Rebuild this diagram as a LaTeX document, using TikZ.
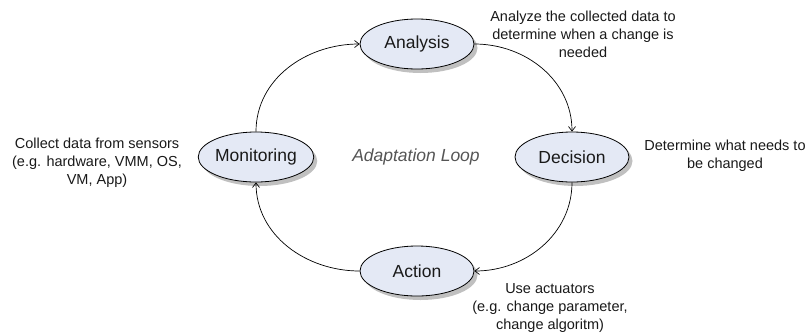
\documentclass[tikz,border=0pt]{standalone}
\usepackage{fontspec}
\setmainfont{Liberation Sans}
\usetikzlibrary{shapes.geometric,arrows.meta,shadows}
\definecolor{stagefill}{HTML}{E4E9F5}
\definecolor{loopgray}{HTML}{555555}
\tikzset{
  stage/.style={ellipse, draw=black, line width=0.8pt, fill=stagefill,
    minimum width=114pt, minimum height=50pt, inner sep=0pt,
    font=\fontsize{17.5}{21}\selectfont, text=black!90,
    drop shadow={shadow xshift=3.5pt, shadow yshift=-4pt, fill=black!45, opacity=0.55}},
  note/.style={align=center, inner sep=0pt, font=\fontsize{14.5}{18}\selectfont, text=black!90},
  flow/.style={line width=0.7pt, -{Straight Barb[length=4.5pt,width=7pt]}}
}
\begin{document}
\begin{tikzpicture}[x=1pt,y=-1pt]
  \useasboundingbox (0,0) rectangle (809,333);

  % the four stages of the loop
  \node[stage] (ana) at (417,44)  {Analysis};
  \node[stage] (mon) at (256,157) {Monitoring};
  \node[stage] (dec) at (572,157) {Decision};
  \node[stage] (act) at (417,271) {Action};

  \node[font=\fontsize{17.5}{21}\selectfont\itshape, text=loopgray] (title) at (416,157) {Adaptation Loop};

  % cyclic connectors
  \draw[flow] (mon.north) to[out=90,in=180] (ana.west);
  \draw[flow] (ana.east)  to[out=0,in=90]   (dec.north);
  \draw[flow] (dec.south) to[out=-90,in=0]  (act.east);
  \draw[flow] (act.west)  to[out=180,in=-90] (mon.south);

  % descriptions
  \node[note] (anaNote) at (583,34)  {Analyze the collected data to\\determine when a change is\\needed};
  \node[note] (decNote) at (725,156) {Determine what needs to\\be changed};
  \node[note] (actNote) at (550,308) {Use actuators\\(e.g. change parameter,\\change algoritm)};
  \node[note] (monNote) at (97,163)  {Collect data from sensors\\(e.g. hardware, VMM, OS,\\VM, App)};
\end{tikzpicture}
\end{document}
